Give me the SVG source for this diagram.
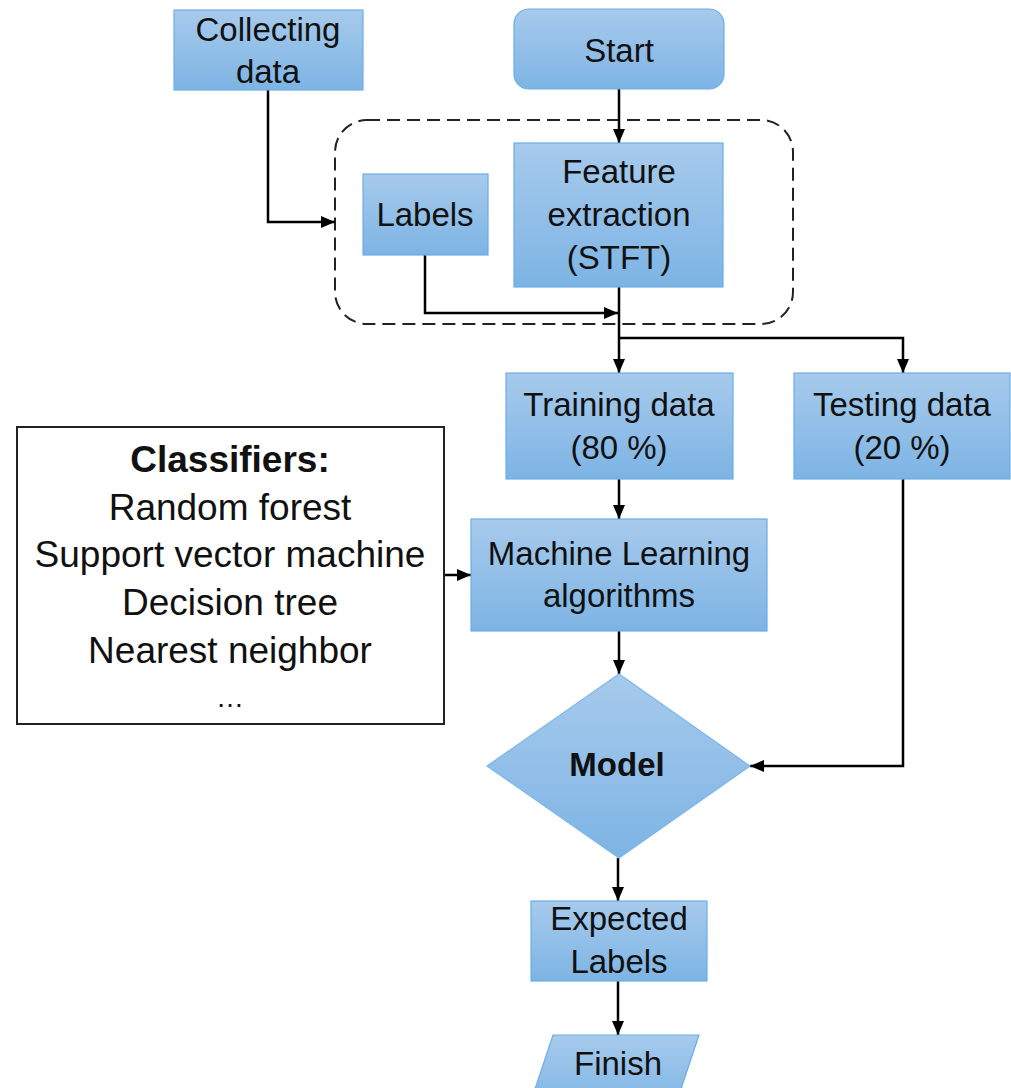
<svg xmlns="http://www.w3.org/2000/svg" width="1011" height="1088" viewBox="0 0 1011 1088">
  <defs>
    <linearGradient id="blueFill" x1="0" y1="0" x2="0" y2="1">
      <stop offset="0" stop-color="#a7caec"/>
      <stop offset="1" stop-color="#7db4e4"/>
    </linearGradient>
    <marker id="arrow" viewBox="0 0 14 12" refX="14" refY="6" markerWidth="14" markerHeight="12" markerUnits="userSpaceOnUse" orient="auto">
      <path d="M0,0 L14,6 L0,12 Z" fill="#000"/>
    </marker>
  </defs>
  <style>
    .box { fill: url(#blueFill); stroke: #6aaee6; stroke-width: 1.2; }
    .lbl { font-family: "Liberation Sans", Arial, sans-serif; font-size: 33px; fill: #111; text-anchor: middle; }
    .cls { font-family: "Liberation Sans", Arial, sans-serif; font-size: 37px; fill: #111; text-anchor: middle; }
    .bold { font-weight: bold; }
    .wire { fill: none; stroke: #000; stroke-width: 2.5; }
    .arr { marker-end: url(#arrow); }
  </style>
  <rect width="1011" height="1088" fill="#fff"/>

  <!-- dashed grouping around labels + feature extraction -->
  <rect id="extraction-group" x="335" y="120" width="458" height="204" rx="32" ry="32" fill="none" stroke="#222" stroke-width="2" stroke-dasharray="13 7"/>

  <!-- connectors -->
  <g id="connectors">
    <path class="wire arr" d="M619,89 V143"/>
    <path class="wire arr" d="M268,90 V222 H335"/>
    <path class="wire arr" d="M425,255 V313 H618"/>
    <path class="wire arr" d="M619,287 V373"/>
    <path class="wire arr" d="M619,338 H903 V373"/>
    <path class="wire arr" d="M619,479 V519"/>
    <path class="wire arr" d="M444,575 H471"/>
    <path class="wire arr" d="M619,631 V674"/>
    <path class="wire arr" d="M903,479 V766 H750"/>
    <path class="wire arr" d="M618,858 V901"/>
    <path class="wire arr" d="M618,981 V1035"/>
  </g>

  <g id="collecting-data">
    <rect class="box" x="174" y="10" width="189" height="80"/>
    <text class="lbl" x="268" y="41">Collecting</text>
    <text class="lbl" x="268" y="83">data</text>
  </g>

  <g id="start">
    <rect class="box" x="514" y="9" width="210" height="80" rx="15" ry="15"/>
    <text class="lbl" x="619" y="62">Start</text>
  </g>

  <g id="labels">
    <rect class="box" x="363" y="174" width="125" height="81"/>
    <text class="lbl" x="425" y="226">Labels</text>
  </g>

  <g id="feature-extraction">
    <rect class="box" x="514" y="143" width="209" height="144"/>
    <text class="lbl" x="619" y="183">Feature</text>
    <text class="lbl" x="619" y="226">extraction</text>
    <text class="lbl" x="619" y="269">(STFT)</text>
  </g>

  <g id="training-data">
    <rect class="box" x="506" y="373" width="227" height="106"/>
    <text class="lbl" x="619" y="416">Training data</text>
    <text class="lbl" x="619" y="459">(80 %)</text>
  </g>

  <g id="testing-data">
    <rect class="box" x="794" y="373" width="216" height="106"/>
    <text class="lbl" x="902" y="416">Testing data</text>
    <text class="lbl" x="902" y="459">(20 %)</text>
  </g>

  <g id="classifiers">
    <rect x="17" y="427" width="427" height="297" fill="#fff" stroke="#222" stroke-width="2"/>
    <text class="cls bold" x="230" y="472">Classifiers:</text>
    <text class="cls" x="230" y="520">Random forest</text>
    <text class="cls" x="230" y="567">Support vector machine</text>
    <text class="cls" x="230" y="615">Decision tree</text>
    <text class="cls" x="230" y="663">Nearest neighbor</text>
    <text class="lbl" x="230" y="707" style="font-size:28px">…</text>
  </g>

  <g id="ml-algorithms">
    <rect class="box" x="471" y="519" width="296" height="112"/>
    <text class="lbl" x="619" y="565">Machine Learning</text>
    <text class="lbl" x="619" y="607">algorithms</text>
  </g>

  <g id="model">
    <polygon class="box" points="619,674 750,766 619,858 487,766" style="stroke:#7ab7ea"/>
    <text class="lbl bold" x="617" y="776">Model</text>
  </g>

  <g id="expected-labels">
    <rect class="box" x="531" y="901" width="176" height="80"/>
    <text class="lbl" x="619" y="930">Expected</text>
    <text class="lbl" x="619" y="973">Labels</text>
  </g>

  <g id="finish">
    <polygon class="box" points="553,1035 699,1035 674,1110 528,1110"/>
    <text class="lbl" x="618" y="1075">Finish</text>
  </g>
</svg>
